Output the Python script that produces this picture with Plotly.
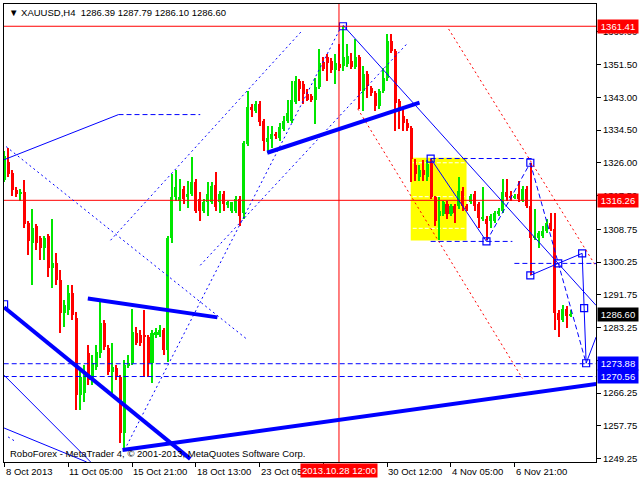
import plotly.graph_objects as go

# ---------------- data (XAUUSD H4) ----------------
opens = [1321.6, 1326.3, 1323.4, 1319.0, 1317.8, 1318.5, 1310.5, 1305.3, 1309.5, 1306.4,
         1304.0, 1306.9, 1298.6, 1299.9, 1295.5, 1287.0, 1287.7, 1292.1, 1285.7, 1265.7,
         1266.3, 1276.6, 1269.6, 1273.0, 1276.6, 1284.4, 1277.9, 1271.7, 1272.7, 1270.4,
         1255.9, 1273.5, 1274.0, 1281.8, 1281.3, 1281.3, 1280.7, 1274.0, 1281.3, 1281.3,
         1282.6, 1277.4, 1306.4, 1317.0, 1316.2, 1319.3, 1317.0, 1318.0, 1321.1, 1316.7,
         1313.4, 1315.7, 1315.7, 1320.3, 1315.7, 1318.0, 1315.2, 1313.6, 1313.6, 1316.7,
         1313.1, 1330.9, 1340.5, 1339.5, 1341.3, 1336.9, 1331.5, 1332.2, 1333.5, 1332.5,
         1334.8, 1336.9, 1336.9, 1341.8, 1347.3, 1346.5, 1343.9, 1343.4, 1342.3, 1345.7,
         1352.2, 1353.5, 1352.4, 1350.1, 1351.7, 1351.1, 1351.7, 1352.4, 1350.9, 1353.5,
         1344.7, 1349.1, 1345.4, 1344.2, 1340.8, 1344.7, 1348.0, 1357.6, 1355.0, 1342.1,
         1338.2, 1336.4, 1335.1, 1325.3, 1322.2, 1324.0, 1322.2, 1326.0, 1317.0, 1312.3,
         1312.8, 1315.2, 1312.8, 1314.9, 1314.9, 1318.8, 1314.9, 1315.7, 1318.0, 1315.2,
         1311.5, 1311.5, 1311.0, 1311.0, 1312.8, 1313.6, 1318.3, 1317.5, 1317.0, 1317.8,
         1316.2, 1319.3, 1314.9, 1306.6, 1306.6, 1307.1, 1308.4, 1310.5, 1308.9, 1287.0,
         1285.1, 1288.2, 1286.39]
highs = [1329.1, 1329.9, 1324.0, 1319.8, 1319.3, 1321.6, 1311.0, 1314.1, 1310.0, 1307.1,
         1307.1, 1307.4, 1311.5, 1302.5, 1298.1, 1290.3, 1294.2, 1294.2, 1287.2, 1272.2,
         1273.5, 1278.7, 1276.1, 1278.7, 1289.8, 1285.1, 1278.7, 1279.2, 1273.5, 1270.9,
         1274.8, 1276.1, 1288.2, 1283.3, 1282.6, 1287.7, 1281.3, 1282.6, 1283.1, 1283.8,
         1283.1, 1307.1, 1323.2, 1324.2, 1321.9, 1320.1, 1321.4, 1327.6, 1321.9, 1318.5,
         1316.7, 1320.9, 1321.1, 1323.7, 1318.8, 1318.8, 1316.2, 1315.7, 1317.5, 1317.5,
         1331.7, 1344.7, 1341.3, 1342.1, 1342.1, 1337.4, 1335.6, 1335.6, 1334.1, 1336.4,
         1338.2, 1342.3, 1347.3, 1348.5, 1347.8, 1347.3, 1345.2, 1343.9, 1348.0, 1355.5,
         1353.5, 1354.2, 1353.2, 1354.2, 1356.8, 1361.41, 1356.8, 1354.5, 1358.1, 1354.0,
         1351.1, 1349.8, 1346.0, 1344.7, 1345.2, 1350.6, 1359.4, 1359.4, 1355.5, 1342.6,
         1340.0, 1337.4, 1335.6, 1327.1, 1325.3, 1326.6, 1326.6, 1327.1, 1317.5, 1317.0,
         1316.2, 1316.2, 1315.4, 1315.4, 1322.2, 1319.6, 1315.4, 1318.0, 1318.8, 1315.7,
         1319.6, 1312.1, 1312.8, 1313.6, 1314.4, 1321.9, 1321.9, 1318.8, 1318.0, 1321.4,
         1320.1, 1320.1, 1326.0, 1314.1, 1308.4, 1309.7, 1311.5, 1313.1, 1313.1, 1287.7,
         1289.0, 1288.8, 1287.79]
lows = [1320.9, 1322.4, 1317.5, 1317.0, 1316.2, 1309.2, 1302.2, 1294.2, 1303.3, 1300.7,
        1300.7, 1296.3, 1293.4, 1294.2, 1281.8, 1283.3, 1286.4, 1285.1, 1261.9, 1261.9,
        1263.9, 1268.3, 1268.3, 1272.2, 1275.3, 1277.4, 1270.9, 1266.2, 1269.6, 1253.3,
        1251.5, 1272.7, 1273.5, 1278.7, 1278.4, 1270.4, 1270.4, 1268.8, 1280.5, 1280.7,
        1276.1, 1274.3, 1305.1, 1316.2, 1313.6, 1315.4, 1314.4, 1317.5, 1312.9, 1311.0,
        1312.9, 1312.3, 1315.2, 1313.6, 1313.1, 1313.6, 1314.4, 1313.1, 1313.1, 1309.7,
        1311.5, 1330.4, 1338.0, 1339.0, 1335.6, 1329.1, 1328.6, 1329.9, 1332.2, 1331.7,
        1334.3, 1336.4, 1336.4, 1341.3, 1342.1, 1341.3, 1342.1, 1341.8, 1336.1, 1345.2,
        1349.8, 1347.3, 1349.3, 1346.5, 1349.8, 1349.8, 1350.9, 1350.4, 1350.4, 1340.0,
        1339.5, 1342.9, 1343.4, 1339.5, 1340.0, 1344.2, 1347.3, 1354.5, 1334.3, 1334.8,
        1334.3, 1334.3, 1320.9, 1321.4, 1321.4, 1321.4, 1321.4, 1316.7, 1309.7, 1305.9,
        1312.1, 1311.5, 1312.1, 1310.5, 1314.1, 1313.6, 1313.6, 1315.2, 1313.6, 1309.2,
        1311.0, 1305.9, 1309.0, 1310.5, 1312.3, 1313.1, 1316.2, 1316.2, 1316.5, 1315.7,
        1315.7, 1314.4, 1296.8, 1305.9, 1303.8, 1306.6, 1307.9, 1308.4, 1282.6, 1280.8,
        1284.6, 1283.1, 1286.10]
closes = [1327.8, 1323.2, 1319.0, 1317.8, 1318.5, 1310.2, 1305.6, 1309.2, 1305.1, 1304.0,
          1306.6, 1298.6, 1299.9, 1295.5, 1287.0, 1289.0, 1292.1, 1286.4, 1265.7, 1270.4,
          1271.7, 1269.6, 1274.0, 1276.9, 1284.4, 1278.2, 1271.7, 1273.0, 1270.4, 1255.9,
          1273.5, 1274.0, 1282.0, 1279.2, 1279.2, 1280.7, 1274.0, 1281.8, 1282.0, 1282.6,
          1277.4, 1306.6, 1317.0, 1319.8, 1317.0, 1316.7, 1318.0, 1321.1, 1313.6, 1313.6,
          1315.9, 1318.0, 1320.1, 1314.6, 1318.0, 1315.2, 1315.7, 1315.7, 1316.5, 1312.1,
          1331.2, 1340.5, 1339.8, 1341.3, 1336.6, 1331.7, 1332.5, 1333.5, 1333.0, 1335.4,
          1336.9, 1339.0, 1342.3, 1347.3, 1345.2, 1343.9, 1342.3, 1342.3, 1345.7, 1351.9,
          1350.4, 1351.9, 1350.1, 1351.9, 1350.6, 1353.5, 1353.7, 1350.9, 1353.5, 1344.7,
          1349.1, 1346.0, 1344.2, 1340.8, 1344.7, 1348.0, 1357.6, 1355.0, 1341.6, 1339.5,
          1336.4, 1335.1, 1327.1, 1323.2, 1324.0, 1322.7, 1325.8, 1317.0, 1311.0, 1313.6,
          1315.7, 1312.8, 1314.9, 1313.1, 1318.8, 1314.9, 1314.1, 1317.5, 1314.9, 1311.8,
          1311.8, 1310.2, 1312.3, 1313.1, 1313.6, 1318.3, 1317.0, 1317.0, 1317.5, 1316.5,
          1319.3, 1314.9, 1306.6, 1307.1, 1307.7, 1308.4, 1310.5, 1308.9, 1287.0, 1285.1,
          1288.2, 1286.2, 1286.60]

xtick_pos = [0, 16, 32, 48, 64, 80, 96, 112, 128]
xtick_text = ["8 Oct 2013", "11 Oct 05:00", "15 Oct 21:00", "18 Oct 13:00",
              "23 Oct 05:00", "", "30 Oct 12:00", "4 Nov 05:00", "6 Nov 21:00"]
ytick_vals = [1360.00, 1351.50, 1343.00, 1334.50, 1326.00, 1317.50, 1308.75,
              1300.25, 1291.75, 1283.25, 1274.75, 1266.25, 1257.75, 1249.25]
crosshair_bar = 83.9
crosshair_label = "2013.10.28 12:00"
header_text = "\u25BC XAUUSD,H4  1286.39 1287.79 1286.10 1286.60"
footer_text = "RoboForex - MetaTrader 4, \u00A9 2001-2013, MetaQuotes Software Corp."

# price labels on the right axis: (price, background)
price_labels = [(1361.41, "#ff0000"), (1316.26, "#ff0000"), (1286.60, "#000000"),
                (1273.88, "#0000ff"), (1270.56, "#0000ff")]

# chart objects, as (bar index, price) endpoints
blue_thin = [(-0.1, 1326.8, 28.6, 1338.5), (-0.1, 1270.9, 21.6, 1248.4),
             (-0.1, 1257.2, 20.6, 1248.4), (84.9, 1361.7, 148.4, 1289.0),
             (106.9, 1327.1, 120.9, 1305.6), (131.9, 1296.8, 138.9, 1299.9),
             (138.9, 1299.9, 144.9, 1302.5), (144.9, 1302.5, 145.4, 1288.3),
             (145.4, 1288.3, 145.9, 1274.0), (145.9, 1274.0, 148.4, 1280.8)]
blue_thick = [(-0.1, 1288.5, 46.6, 1249.2), (29.6, 1251.5, 148.4, 1268.6),
              (20.9, 1290.8, 53.4, 1285.9), (65.9, 1328.6, 104.1, 1341.6)]
blue_dashed = [(28.6, 1338.5, 49.1, 1338.5), (120.9, 1305.6, 131.9, 1326.0),
               (131.9, 1326.0, 145.9, 1274.0), (-0.2, 1273.88, 148.5, 1273.88),
               (-0.2, 1270.56, 148.5, 1270.56), (106.9, 1305.6, 127.4, 1305.6),
               (106.9, 1327.1, 132.9, 1327.1), (127.9, 1299.9, 148.4, 1299.9)]
blue_dotted = [(0.4, 1330.2, 61.1, 1280.0), (26.6, 1305.9, 74.6, 1360.2),
               (30.1, 1251.5, 84.4, 1361.2), (49.1, 1299.4, 100.9, 1356.8),
               (0.9, 1254.9, 2.9, 1253.6)]
red_dotted = [(88.6, 1340.0, 129.9, 1270.1), (111.4, 1360.7, 148.4, 1299.1)]
red_hlines = [1361.41, 1316.26]
box_rect = (101.9, 1305.85, 115.9, 1327.33)
box_levels = [1326.0, 1317.2, 1309.0]
markers_x = [84.9, 106.9, 120.9, 131.9, 131.9, 138.9, 144.9, 145.4, 145.9, -0.1]
markers_y = [1361.41, 1327.1, 1305.6, 1326.0, 1296.8, 1299.9, 1302.5, 1288.3, 1274.0, 1289.3]

X_RANGE = [-0.125, 148.375]
Y_RANGE = [1248.39, 1367.18]

# ---------------- figure ----------------
GREEN = "#00e600"
RED = "#ff0000"
BLUE = "#0000ff"
FONT = "Liberation Sans, Arial, sans-serif"
FS = 9.5

idx = list(range(len(opens)))
colors = [GREEN if c >= o else RED for o, c in zip(opens, closes)]
body_base = [min(o, c) for o, c in zip(opens, closes)]
body_h = [max(abs(c - o), 0.3) for o, c in zip(opens, closes)]
wick_h = [h - l for h, l in zip(highs, lows)]

fig = go.Figure()
fig.add_trace(go.Bar(x=idx, y=wick_h, base=lows, width=0.26,
                     marker=dict(color=colors, line=dict(width=0)),
                     hoverinfo="skip", showlegend=False))
fig.add_trace(go.Bar(x=idx, y=body_h, base=body_base, width=0.76,
                     marker=dict(color=colors, line=dict(width=0)),
                     hoverinfo="skip", showlegend=False))
fig.add_trace(go.Scatter(x=markers_x, y=markers_y, mode="markers",
                         marker=dict(symbol="square-open", size=7, color=BLUE,
                                     line=dict(width=1.2, color=BLUE)),
                         hoverinfo="skip", showlegend=False))

shapes = []
shapes.append(dict(type="rect", xref="x", yref="y", x0=box_rect[0], y0=box_rect[1],
                   x1=box_rect[2], y1=box_rect[3], fillcolor="#ffff00",
                   line=dict(width=0), layer="below"))
for lv in box_levels:
    shapes.append(dict(type="line", xref="x", yref="y", x0=box_rect[0] + 0.5, x1=box_rect[2] - 0.5,
                       y0=lv, y1=lv, line=dict(color="white", width=1, dash="4px,2px"),
                       layer="below"))


def seg(lst, color, width, dash=None):
    for x0, y0, x1, y1 in lst:
        ln = dict(color=color, width=width)
        if dash:
            ln["dash"] = dash
        shapes.append(dict(type="line", xref="x", yref="y", x0=x0, y0=y0, x1=x1, y1=y1,
                           line=ln, layer="above"))


for p in red_hlines:
    shapes.append(dict(type="line", xref="paper", yref="y", x0=0, x1=1, y0=p, y1=p,
                       line=dict(color=RED, width=1), layer="above"))
shapes.append(dict(type="line", xref="x", yref="paper", x0=crosshair_bar, x1=crosshair_bar,
                   y0=0, y1=1, line=dict(color=RED, width=1), layer="above"))
seg(red_dotted, RED, 1, "2px,3px")
seg(blue_dotted, BLUE, 1, "2px,3px")
seg(blue_dashed, BLUE, 1, "5px,3px")
seg(blue_thin, BLUE, 1)
seg(blue_thick, BLUE, 4)

annotations = []
for p, bg in price_labels:
    annotations.append(dict(xref="paper", yref="y", x=1, y=p, xanchor="left", yanchor="middle",
                            xshift=1, text="%.2f" % p, showarrow=False, bgcolor=bg,
                            font=dict(color="white", size=FS, family=FONT),
                            width=38, align="center", borderpad=1))
for k, t in zip(xtick_pos, xtick_text):
    if t:
        annotations.append(dict(xref="x", yref="paper", x=k, y=0, xanchor="left",
                                yanchor="top", xshift=-1, yshift=-2, text=t, showarrow=False,
                                font=dict(color="black", size=FS, family=FONT)))
annotations.append(dict(xref="x", yref="paper", x=crosshair_bar, y=0, xanchor="center",
                        yanchor="top", yshift=-1, text=crosshair_label, showarrow=False,
                        bgcolor=RED, font=dict(color="white", size=FS, family=FONT),
                        borderpad=1))
annotations.append(dict(xref="paper", yref="paper", x=0, y=1, xanchor="left", yanchor="top",
                        xshift=3, yshift=-1, text=header_text, showarrow=False,
                        font=dict(color="black", size=FS, family=FONT)))
annotations.append(dict(xref="paper", yref="paper", x=0, y=0, xanchor="left", yanchor="bottom",
                        xshift=4, yshift=1, text=footer_text, showarrow=False,
                        font=dict(color="black", size=FS, family=FONT)))

fig.update_layout(
    width=640, height=480,
    margin=dict(l=3, r=43, t=3, b=18),
    paper_bgcolor="white", plot_bgcolor="white",
    barmode="overlay", bargap=0,
    shapes=shapes, annotations=annotations,
    xaxis=dict(range=X_RANGE, showgrid=False, zeroline=False, showline=True,
               linecolor="black", linewidth=1, mirror=True, ticks="outside",
               ticklen=4, tickcolor="black", tickvals=xtick_pos, showticklabels=False),
    yaxis=dict(range=Y_RANGE, side="right", showgrid=False, zeroline=False, showline=True,
               linecolor="black", linewidth=1, mirror=True, ticks="outside", ticklen=4,
               tickcolor="black", tickvals=ytick_vals,
               ticktext=["%.2f" % v for v in ytick_vals],
               tickfont=dict(color="black", size=FS, family=FONT)),
)

fig.write_html("out.html", config={"displayModeBar": False},
               post_script="document.body.style.margin='0';document.body.style.padding='0';")
